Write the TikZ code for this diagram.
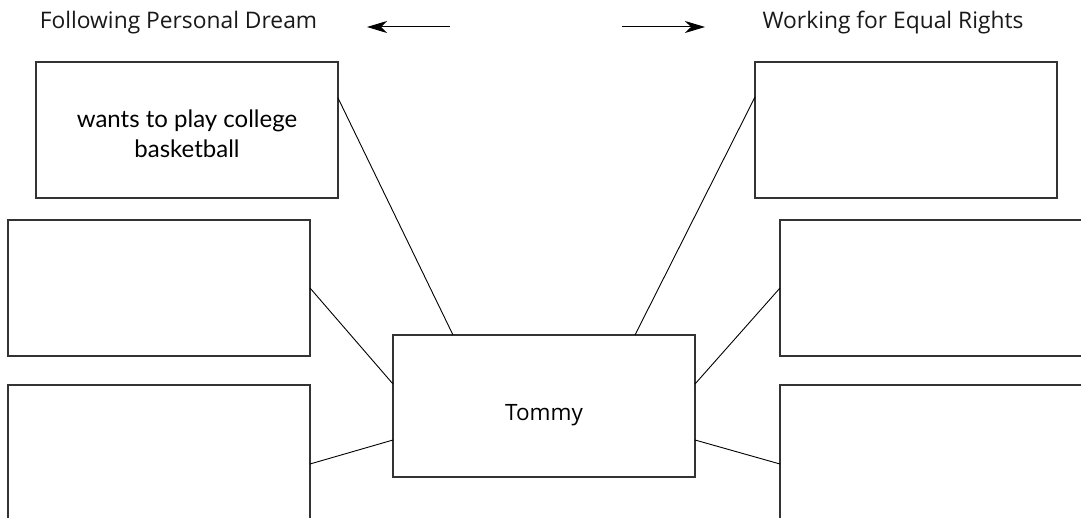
\documentclass[tikz,border=0pt]{standalone}
\usepackage{fontspec}
\setmainfont{Open Sans}
\newfontfamily\handfont{Lato}
\usetikzlibrary{arrows.meta,calc}
\begin{document}
\begin{tikzpicture}[x=1pt,y=-1pt,
  box/.style={draw=black!80, line width=1.1pt, minimum width=302pt, minimum height=136pt, inner sep=0pt, outer sep=0pt},
  link/.style={draw=black, line width=0.9pt},
  title/.style={font=\fontsize{22.8}{26}\selectfont, anchor=base, inner sep=0pt, text=black!90},
  arr/.style={line width=1pt, -{Stealth[length=20pt,width=12pt,inset=6pt]}}]
\useasboundingbox[fill=white] (0,0) rectangle (1081,518);
\node[title] (lt) at (178.5,29) {Following Personal Dream};
\node[title] (rt) at (893,29) {Working for Equal Rights};
\coordinate (las) at (450,27);
\coordinate (lae) at (367,27);
\coordinate (ras) at (622,27);
\coordinate (rae) at (705,27);
\draw[arr] (las) -- (lae);
\draw[arr] (ras) -- (rae);
\node[box, align=center, font=\handfont\fontsize{24}{30}\selectfont] (tl) at (187,130) {\rule{0pt}{26pt}wants to play college\\basketball};
\node[box] (tr) at (906,130) {};
\node[box] (ml) at (159,288) {};
\node[box] (bl) at (159,453) {};
\node[box] (mr) at (931,288) {};
\node[box] (br) at (931,453) {};
\node[box, minimum height=142pt, font=\fontsize{22.5}{26}\selectfont, text height=28pt, text depth=0pt] (tom) at (544,406) {Tommy};
\draw[link] ([yshift=-36pt]tl.north east) -- ([xshift=60pt]tom.north west);
\draw[link] ([yshift=-35pt]tr.north west) -- ([xshift=-60pt]tom.north east);
\draw[link] (ml.east) -- ([yshift=-49pt]tom.north west);
\draw[link] ([yshift=-79pt]bl.north east) -- ([yshift=-105pt]tom.north west);
\draw[link] (mr.west) -- ([yshift=-49pt]tom.north east);
\draw[link] ([yshift=-79pt]br.north west) -- ([yshift=-105pt]tom.north east);
\end{tikzpicture}
\end{document}
